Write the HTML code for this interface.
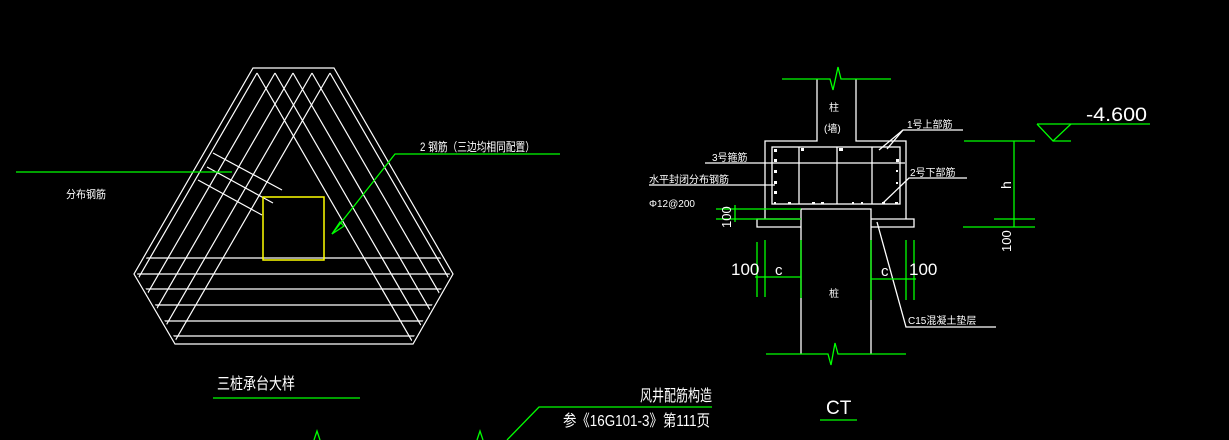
<!DOCTYPE html>
<html><head><meta charset="utf-8"><style>
html,body{margin:0;padding:0;background:#000;}
svg{display:block}
text{font-family:"Liberation Sans","Noto Sans CJK SC",sans-serif;fill:#fff;}
</style></head><body>
<svg width="1229" height="440" viewBox="0 0 1229 440" xmlns="http://www.w3.org/2000/svg">
<defs>
<clipPath id="hex"><polygon points="255,70 332,70 450,274 411,342 177,342 137,274"/></clipPath>
</defs>
<rect width="1229" height="440" fill="#000"/>
<g stroke="#fff" stroke-width="1.2" fill="none">
<polygon points="253,68 334,68 453,274 413,344 175,344 134,274"/>
<g clip-path="url(#hex)">
<line x1="257" y1="73" x2="80" y2="379"/>
<line x1="275" y1="73" x2="98" y2="379"/>
<line x1="293" y1="73" x2="116" y2="379"/>
<line x1="312" y1="73" x2="135" y2="379"/>
<line x1="330" y1="73" x2="153" y2="379"/>
<line x1="257" y1="73" x2="434" y2="379"/>
<line x1="275" y1="73" x2="452" y2="379"/>
<line x1="293" y1="73" x2="470" y2="379"/>
<line x1="312" y1="73" x2="489" y2="379"/>
<line x1="330" y1="73" x2="507" y2="379"/>
<line x1="100" y1="258" x2="470" y2="258"/>
<line x1="100" y1="274" x2="470" y2="274"/>
<line x1="100" y1="289" x2="470" y2="289"/>
<line x1="100" y1="305" x2="470" y2="305"/>
<line x1="100" y1="321" x2="470" y2="321"/>
<line x1="100" y1="336" x2="470" y2="336"/>
</g>
<line x1="213" y1="153" x2="282" y2="190"/>
<line x1="207" y1="167" x2="273" y2="203"/>
<line x1="198" y1="180" x2="262" y2="215"/>
</g>
<rect x="263" y="197" width="61" height="63" fill="none" stroke="#ff0" stroke-width="1.5"/>
<g stroke="#0f0" stroke-width="1.3" fill="none">
<polyline points="560,154 395,154 332,234"/>
<polygon points="332,234 340,222 344,226" />
<line x1="16" y1="172" x2="232" y2="172"/>
<line x1="213" y1="398" x2="360" y2="398"/>
<polyline points="712,407 539,407 507,440"/>
<polyline points="314,440 317,431 320,440"/>
<polyline points="477,440 480,431 483,440"/>
</g>
<text x="420" y="151" font-size="12" textLength="115" lengthAdjust="spacingAndGlyphs">2 钢筋（三边均相同配置）</text>
<text x="66" y="198" font-size="11" textLength="40" lengthAdjust="spacingAndGlyphs">分布钢筋</text>
<text x="217" y="389" font-size="16" textLength="78" lengthAdjust="spacingAndGlyphs">三桩承台大样</text>
<text x="640" y="401" font-size="16" textLength="72" lengthAdjust="spacingAndGlyphs">风井配筋构造</text>
<text x="563" y="426" font-size="16" textLength="147" lengthAdjust="spacingAndGlyphs">参《16G101-3》第111页</text>

<g stroke="#fff" stroke-width="1.3" fill="none">
<polyline points="817,79 817,141 765,141 765,219"/>
<polyline points="856,79 856,141 906,141 906,219"/>
<polyline points="871,219 914,219 914,227 871,227"/>
<polyline points="801,219 757,219 757,227 801,227"/>
<polyline points="801,354 801,209 871,209 871,354"/>
<rect x="772" y="147" width="128" height="57"/>
<line x1="799" y1="147" x2="799" y2="204"/>
<line x1="837" y1="147" x2="837" y2="204"/>
<line x1="872" y1="147" x2="872" y2="204"/>
<line x1="705" y1="163" x2="905" y2="163"/>
<line x1="649" y1="185" x2="775" y2="185"/>
<polyline points="963,130 903,130 879,150"/>
<line x1="903" y1="130" x2="887" y2="149"/>
<polyline points="967,178 909,178 883,203"/>
<polyline points="877,222 906,327 996,327"/>
</g>
<g fill="#fff">
<rect x="774" y="149" width="3" height="3"/><rect x="801" y="148" width="3" height="3"/><rect x="839" y="148" width="4" height="3"/>
<rect x="774" y="159" width="3" height="3"/><rect x="774" y="170" width="3" height="3"/><rect x="774" y="181" width="3" height="3"/><rect x="774" y="191" width="3" height="3"/>
<rect x="896" y="170" width="2" height="2"/><rect x="896" y="182" width="2" height="2"/><rect x="896" y="159" width="3" height="3"/>
<rect x="774" y="202" width="2" height="2"/><rect x="788" y="202" width="3" height="2"/><rect x="812" y="202" width="3" height="2"/><rect x="821" y="202" width="3" height="2"/><rect x="852" y="202" width="2" height="2"/><rect x="861" y="202" width="2" height="2"/><rect x="882" y="202" width="3" height="2"/><rect x="895" y="202" width="3" height="2"/>
</g>
<g stroke="#0f0" stroke-width="1.3" fill="none">
<polyline points="782,79 830,79 833,90 838,67 841,79 891,79"/>
<polyline points="766,354 828,354 831,365 835,343 838,354 906,354"/>
<line x1="716" y1="209" x2="801" y2="209"/>
<line x1="716" y1="219" x2="801" y2="219"/>
<line x1="735" y1="205" x2="735" y2="222"/>
<line x1="757" y1="242" x2="757" y2="297"/>
<line x1="765" y1="240" x2="765" y2="297"/>
<line x1="801" y1="240" x2="801" y2="298"/>
<line x1="755" y1="277" x2="801" y2="277"/>
<line x1="871" y1="240" x2="871" y2="300"/>
<line x1="906" y1="240" x2="906" y2="300"/>
<line x1="914" y1="240" x2="914" y2="300"/>
<line x1="871" y1="279" x2="916" y2="279"/>
<line x1="820" y1="420" x2="857" y2="420"/>
<polyline points="1037,124 1150,124"/>
<polyline points="1037,124 1053,141 1071,124"/>
<line x1="1053" y1="141" x2="1071" y2="141"/>
<line x1="964" y1="141" x2="1035" y2="141"/>
<line x1="994" y1="219" x2="1035" y2="219"/>
<line x1="963" y1="227" x2="1035" y2="227"/>
<line x1="1014" y1="141" x2="1014" y2="227"/>
</g>
<text x="829" y="111" font-size="10">柱</text>
<text x="824" y="132" font-size="10">(墙)</text>
<text x="907" y="128" font-size="10">1号上部筋</text>
<text x="910" y="176" font-size="10">2号下部筋</text>
<text x="712" y="161" font-size="10">3号箍筋</text>
<text x="649" y="183" font-size="10">水平封闭分布钢筋</text>
<text x="649" y="207" font-size="10">Φ12@200</text>
<text x="0" y="0" font-size="13" transform="translate(731,228) rotate(-90)">100</text>
<text x="731" y="275" font-size="17">100</text>
<text x="775" y="275" font-size="15">c</text>
<text x="881" y="276" font-size="15">c</text>
<text x="909" y="275" font-size="17">100</text>
<text x="829" y="297" font-size="10">桩</text>
<text x="908" y="324" font-size="10">C15混凝土垫层</text>
<text x="826" y="414" font-size="19">CT</text>
<text x="1086" y="121" font-size="19" textLength="61" lengthAdjust="spacingAndGlyphs">-4.600</text>
<text x="0" y="0" font-size="14" transform="translate(1011,189) rotate(-90)">h</text>
<text x="0" y="0" font-size="13" transform="translate(1011,252) rotate(-90)">100</text>
</svg>
</body></html>
